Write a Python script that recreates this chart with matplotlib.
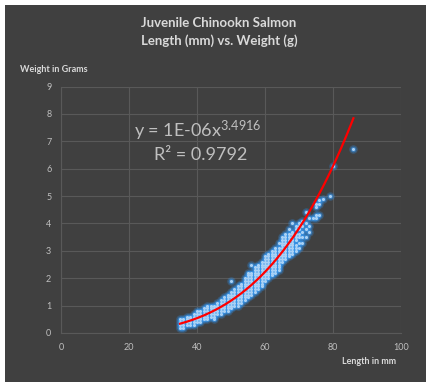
import numpy as np
import matplotlib
matplotlib.use("Agg")
import matplotlib.pyplot as plt
from matplotlib.patches import Rectangle

plt.rcParams['font.family'] = ['Lato', 'DejaVu Sans']
plt.rcParams['mathtext.fontset'] = 'custom'
plt.rcParams['mathtext.rm'] = 'Lato'
plt.rcParams['mathtext.it'] = 'Lato'

# Juvenile chinook salmon: fork length (mm) and weight (g), one entry per fish
length_mm = [
    35, 35, 35, 35,
    36, 36, 36, 36,
    37, 37, 37, 37,
    38, 38, 38, 38,
    39, 39, 39, 39, 39,
    40, 40, 40, 40, 40,
    41, 41, 41, 41, 41,
    42, 42, 42, 42, 42,
    43, 43, 43, 43, 43, 43,
    44, 44, 44, 44, 44,
    45, 45, 45, 45, 45, 45,
    46, 46, 46, 46, 46,
    47, 47, 47, 47, 47, 47,
    48, 48, 48, 48, 48, 48,
    49, 49, 49, 49, 49, 49, 49,
    50, 50, 50, 50, 50, 50, 50, 50,
    51, 51, 51, 51, 51, 51, 51,
    52, 52, 52, 52, 52, 52, 52, 52,
    53, 53, 53, 53, 53, 53, 53, 53,
    54, 54, 54, 54, 54, 54, 54, 54, 54,
    55, 55, 55, 55, 55, 55, 55, 55, 55, 55,
    56, 56, 56, 56, 56, 56, 56, 56, 56, 56,
    57, 57, 57, 57, 57, 57, 57, 57, 57, 57,
    58, 58, 58, 58, 58, 58, 58, 58, 58, 58,
    59, 59, 59, 59, 59, 59, 59, 59, 59, 59,
    60, 60, 60, 60, 60, 60, 60, 60, 60, 60,
    61, 61, 61, 61, 61, 61, 61, 61, 61, 61,
    62, 62, 62, 62, 62, 62, 62, 62, 62, 62,
    63, 63, 63, 63, 63, 63, 63, 63, 63, 63,
    64, 64, 64, 64, 64, 64, 64, 64, 64, 64,
    65, 65, 65, 65, 65, 65, 65, 65, 65, 65,
    66, 66, 66, 66, 66, 66, 66, 66, 66, 66,
    67, 67, 67, 67, 67, 67, 67, 67, 67, 67,
    68, 68, 68, 68, 68, 68, 68, 68, 68, 68,
    69, 69, 69, 69, 69, 69, 69, 69,
    70, 70, 70, 70, 70, 70, 70,
    71, 71, 71, 71, 71,
    72, 72, 72, 72,
    73, 73, 73,
    74,
    75, 75, 75, 75,
    76, 76, 76,
    77,
    79,
    80,
    86,
]
weight_g = [
    0.2, 0.3, 0.4, 0.5,
    0.2, 0.3, 0.4, 0.5,
    0.3, 0.4, 0.5, 0.6,
    0.3, 0.4, 0.5, 0.6,
    0.3, 0.4, 0.5, 0.6, 0.7,
    0.4, 0.5, 0.6, 0.7, 0.8,
    0.4, 0.5, 0.6, 0.7, 0.8,
    0.5, 0.6, 0.7, 0.8, 0.9,
    0.5, 0.6, 0.7, 0.8, 0.9, 1.0,
    0.6, 0.7, 0.8, 0.9, 1.0,
    0.5, 0.6, 0.7, 0.8, 0.9, 1.0,
    0.7, 0.8, 0.9, 1.0, 1.1,
    0.7, 0.8, 0.9, 1.0, 1.1, 1.2,
    0.8, 0.9, 1.0, 1.1, 1.2, 1.3,
    0.8, 0.9, 1.0, 1.1, 1.2, 1.3, 1.4,
    0.9, 1.0, 1.1, 1.2, 1.3, 1.4, 1.5, 1.9,
    1.0, 1.1, 1.2, 1.3, 1.4, 1.5, 1.6,
    1.0, 1.1, 1.2, 1.3, 1.4, 1.5, 1.6, 1.7,
    1.1, 1.2, 1.3, 1.4, 1.5, 1.6, 1.7, 1.8,
    1.2, 1.3, 1.4, 1.5, 1.6, 1.7, 1.8, 1.9, 2.0,
    1.3, 1.4, 1.5, 1.6, 1.7, 1.8, 1.9, 2.0, 2.1, 2.2,
    1.4, 1.5, 1.6, 1.7, 1.8, 1.9, 2.0, 2.1, 2.2, 2.5,
    1.5, 1.6, 1.7, 1.8, 1.9, 2.0, 2.1, 2.2, 2.3, 2.4,
    1.6, 1.7, 1.8, 1.9, 2.0, 2.1, 2.2, 2.3, 2.4, 2.5,
    1.7, 1.8, 1.9, 2.0, 2.1, 2.2, 2.3, 2.4, 2.5, 2.6,
    1.9, 2.0, 2.1, 2.2, 2.3, 2.4, 2.5, 2.6, 2.7, 2.8,
    2.0, 2.1, 2.2, 2.3, 2.4, 2.5, 2.6, 2.7, 2.8, 2.9,
    2.1, 2.2, 2.3, 2.4, 2.5, 2.6, 2.7, 2.8, 2.9, 3.0,
    2.2, 2.3, 2.4, 2.5, 2.6, 2.7, 2.8, 2.9, 3.0, 3.1,
    2.3, 2.4, 2.5, 2.6, 2.7, 2.8, 2.9, 3.0, 3.1, 3.3,
    2.6, 2.7, 2.8, 2.9, 3.0, 3.1, 3.2, 3.3, 3.4, 3.5,
    2.7, 2.8, 2.9, 3.0, 3.1, 3.2, 3.3, 3.4, 3.5, 3.6,
    2.8, 2.9, 3.0, 3.1, 3.2, 3.3, 3.4, 3.5, 3.6, 3.8,
    2.9, 3.0, 3.1, 3.2, 3.3, 3.4, 3.5, 3.6, 3.7, 4.0,
    3.0, 3.1, 3.2, 3.4, 3.5, 3.6, 3.8, 3.9,
    3.1, 3.3, 3.5, 3.6, 3.8, 3.9, 4.0,
    3.3, 3.5, 3.7, 3.9, 4.1,
    3.5, 3.8, 4.0, 4.4,
    3.7, 3.9, 4.2,
    4.2,
    4.2, 4.3, 4.6, 4.7,
    4.3, 4.7, 4.85,
    4.9,
    5.0,
    6.1,
    6.7,
]

# Power trendline y = a * x^b as reported by the spreadsheet fit
fit_coef = 1.38e-6
fit_exp = 3.4916
fit_r2 = 0.9792

fig = plt.figure(figsize=(4.27, 3.82), dpi=100, facecolor='white')
# dark chart area, leaving a thin white margin on the top and left
fig.patches.append(Rectangle((5 / 427, 0), 1, 1 - 5 / 382, transform=fig.transFigure,
                             facecolor='#404040', edgecolor='none', zorder=-10))

ax = fig.add_axes([61 / 427, 1 - 333 / 382, 340 / 427, 246.5 / 382])
ax.set_facecolor('none')

# points with a soft blue glow underneath
ax.scatter(length_mm, weight_g, s=38, color='#2f8fe8', alpha=0.30, linewidths=0, zorder=2)
ax.scatter(length_mm, weight_g, s=16, color='#3a98ee', alpha=0.55, linewidths=0, zorder=3)
ax.scatter(length_mm, weight_g, s=5, color='#a9d1f5', linewidths=0, zorder=4)

xs = np.linspace(min(length_mm), max(length_mm), 200)
ax.plot(xs, fit_coef * xs ** fit_exp, color='#ff0000', lw=1.6, zorder=5)

ax.set_xlim(0, 100)
ax.set_ylim(0, 9)
ax.set_xticks(range(0, 101, 20))
ax.set_yticks(range(0, 10))
ax.grid(True, color='#595959', lw=0.8)
ax.set_axisbelow(True)
for side in ['top', 'right']:
    ax.spines[side].set_visible(False)
for side in ['left', 'bottom']:
    ax.spines[side].set_color('#595959')
    ax.spines[side].set_linewidth(0.8)
ax.tick_params(length=0, colors='#bfbfbf', labelsize=6.5, pad=7)

eq = f"y = {fit_coef:.0E}" + "x$^{" + f"{fit_exp}" + "}$"
ax.text(0.403, 0.819, eq, transform=ax.transAxes, ha='center', va='center',
        color='#bfbfbf', fontsize=13)
ax.text(0.41, 0.722, f"R\u00b2 = {fit_r2}", transform=ax.transAxes, ha='center', va='center',
        color='#bfbfbf', fontsize=13)

fig.text(219 / 427, 1 - 22.7 / 382, "Juvenile Chinookn Salmon", ha='center', va='center',
         color='#d9d9d9', fontsize=9.5, fontweight='bold')
fig.text(219 / 427, 1 - 40.7 / 382, "Length (mm) vs. Weight (g)", ha='center', va='center',
         color='#d9d9d9', fontsize=9.5, fontweight='bold')
fig.text(20 / 427, 1 - 69 / 382, "Weight in Grams", ha='left', va='center',
         color='#d9d9d9', fontsize=6.5, fontweight='bold')
fig.text(396 / 427, 1 - 362 / 382, "Length in mm", ha='right', va='center',
         color='#d9d9d9', fontsize=6.5, fontweight='bold')

fig.savefig('out.png', dpi=100, facecolor=fig.get_facecolor())
